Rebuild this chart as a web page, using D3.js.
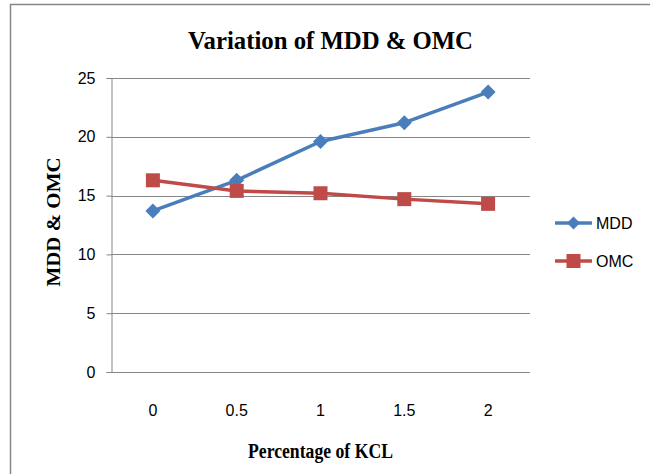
<!DOCTYPE html>
<html><head><meta charset="utf-8">
<script src="https://cdn.jsdelivr.net/npm/d3@7"></script>
<style>body{margin:0;background:#fff}svg{display:block}</style>
</head><body>
<script>
const categories = ["0", "0.5", "1", "1.5", "2"];
const mddValues = [13.7, 16.3, 19.6, 21.2, 23.8];
const omcValues = [16.3, 15.4, 15.2, 14.7, 14.3];
const yTicks = [0, 5, 10, 15, 20, 25];
const seriesNames = ["MDD", "OMC"];

const W = 650, H = 474;
const svg = d3.select("body").append("svg").attr("width", W).attr("height", H);
svg.append("rect").attr("x", 0).attr("y", 0).attr("width", W).attr("height", H).attr("fill", "#fff");
svg.append("rect").attr("x", 10.5).attr("y", 4.5).attr("width", 700).attr("height", 600)
  .attr("fill", "none").attr("stroke", "#868686").attr("stroke-width", 1.5);

const pLeft = 111, pRight = 530, pTop = 78, pBottom = 372;
const x = d3.scaleBand().domain(categories).range([pLeft, pRight]);
const y = d3.scaleLinear().domain([0, 25]).range([pBottom, pTop]);
const tickFont = "'Liberation Sans', Arial, sans-serif";
const serif = "'Liberation Serif', 'Times New Roman', serif";

// gridlines
svg.append("g").selectAll("line").data(yTicks).join("line")
  .attr("x1", pLeft).attr("x2", pRight)
  .attr("y1", d => Math.round(y(d)) + 0.5).attr("y2", d => Math.round(y(d)) + 0.5)
  .attr("stroke", "#868686").attr("stroke-width", 1);

const yAxis = svg.append("g").attr("transform", `translate(${pLeft + 0.5},0)`)
  .call(d3.axisLeft(y).tickValues(yTicks).tickSize(5).tickPadding(11).tickFormat(d3.format("d")));
yAxis.select(".domain").attr("stroke", "#868686");
yAxis.selectAll(".tick line").attr("stroke", "#868686");
yAxis.selectAll("text").attr("font-family", tickFont).attr("font-size", 16).attr("fill", "#000");

const xAxis = svg.append("g").attr("transform", `translate(0,${pBottom})`)
  .call(d3.axisBottom(x).tickSize(0).tickPadding(33));
xAxis.select(".domain").remove();
xAxis.selectAll("text").attr("font-family", tickFont).attr("font-size", 16).attr("fill", "#000");

const cx = d => x(d) + x.bandwidth() / 2;
const line = d3.line().x((d, i) => cx(categories[i])).y(d => y(d));
const colors = ["#4A7EBB", "#BE4B48"];

svg.append("path").datum(mddValues).attr("d", line).attr("fill", "none")
  .attr("stroke", colors[0]).attr("stroke-width", 3.5).attr("stroke-linejoin", "round");
svg.append("path").datum(omcValues).attr("d", line).attr("fill", "none")
  .attr("stroke", colors[1]).attr("stroke-width", 3.5).attr("stroke-linejoin", "round");

const diamond = (s) => `M0,${-s}L${s},0L0,${s}L${-s},0Z`;
svg.append("g").selectAll("path").data(mddValues).join("path")
  .attr("transform", (d, i) => `translate(${cx(categories[i])},${y(d)})`)
  .attr("d", diamond(7.5)).attr("fill", colors[0]);
svg.append("g").selectAll("rect").data(omcValues).join("rect")
  .attr("x", (d, i) => cx(categories[i]) - 7).attr("y", d => y(d) - 7)
  .attr("width", 14).attr("height", 14).attr("fill", colors[1]);

// legend
const lg = svg.append("g");
seriesNames.forEach((name, i) => {
  const ly = 223 + i * 38;
  lg.append("line").attr("x1", 555).attr("x2", 592).attr("y1", ly).attr("y2", ly)
    .attr("stroke", colors[i]).attr("stroke-width", 3.5);
  if (i === 0) lg.append("path").attr("transform", `translate(573.5,${ly})`).attr("d", diamond(6.5)).attr("fill", colors[0]);
  else lg.append("rect").attr("x", 566.5).attr("y", ly - 7).attr("width", 14).attr("height", 14).attr("fill", colors[1]);
  lg.append("text").attr("x", 596).attr("y", ly + 6).text(name)
    .attr("font-family", tickFont).attr("font-size", 16).attr("fill", "#000");
});

// titles
svg.append("text").attr("x", 330.5).attr("y", 49).attr("text-anchor", "middle")
  .attr("font-family", serif).attr("font-weight", "bold").attr("font-size", 26)
  .attr("textLength", 285).attr("lengthAdjust", "spacingAndGlyphs")
  .text("Variation of MDD & OMC");
svg.append("text").attr("x", 320.5).attr("y", 458).attr("text-anchor", "middle")
  .attr("font-family", serif).attr("font-weight", "bold").attr("font-size", 20)
  .attr("textLength", 145).attr("lengthAdjust", "spacingAndGlyphs")
  .text("Percentage of KCL");
svg.append("text").attr("transform", "translate(59.5,222) rotate(-90)").attr("text-anchor", "middle")
  .attr("font-family", serif).attr("font-weight", "bold").attr("font-size", 19)
  .attr("textLength", 129).attr("lengthAdjust", "spacingAndGlyphs")
  .text("MDD & OMC");
</script>
</body></html>
